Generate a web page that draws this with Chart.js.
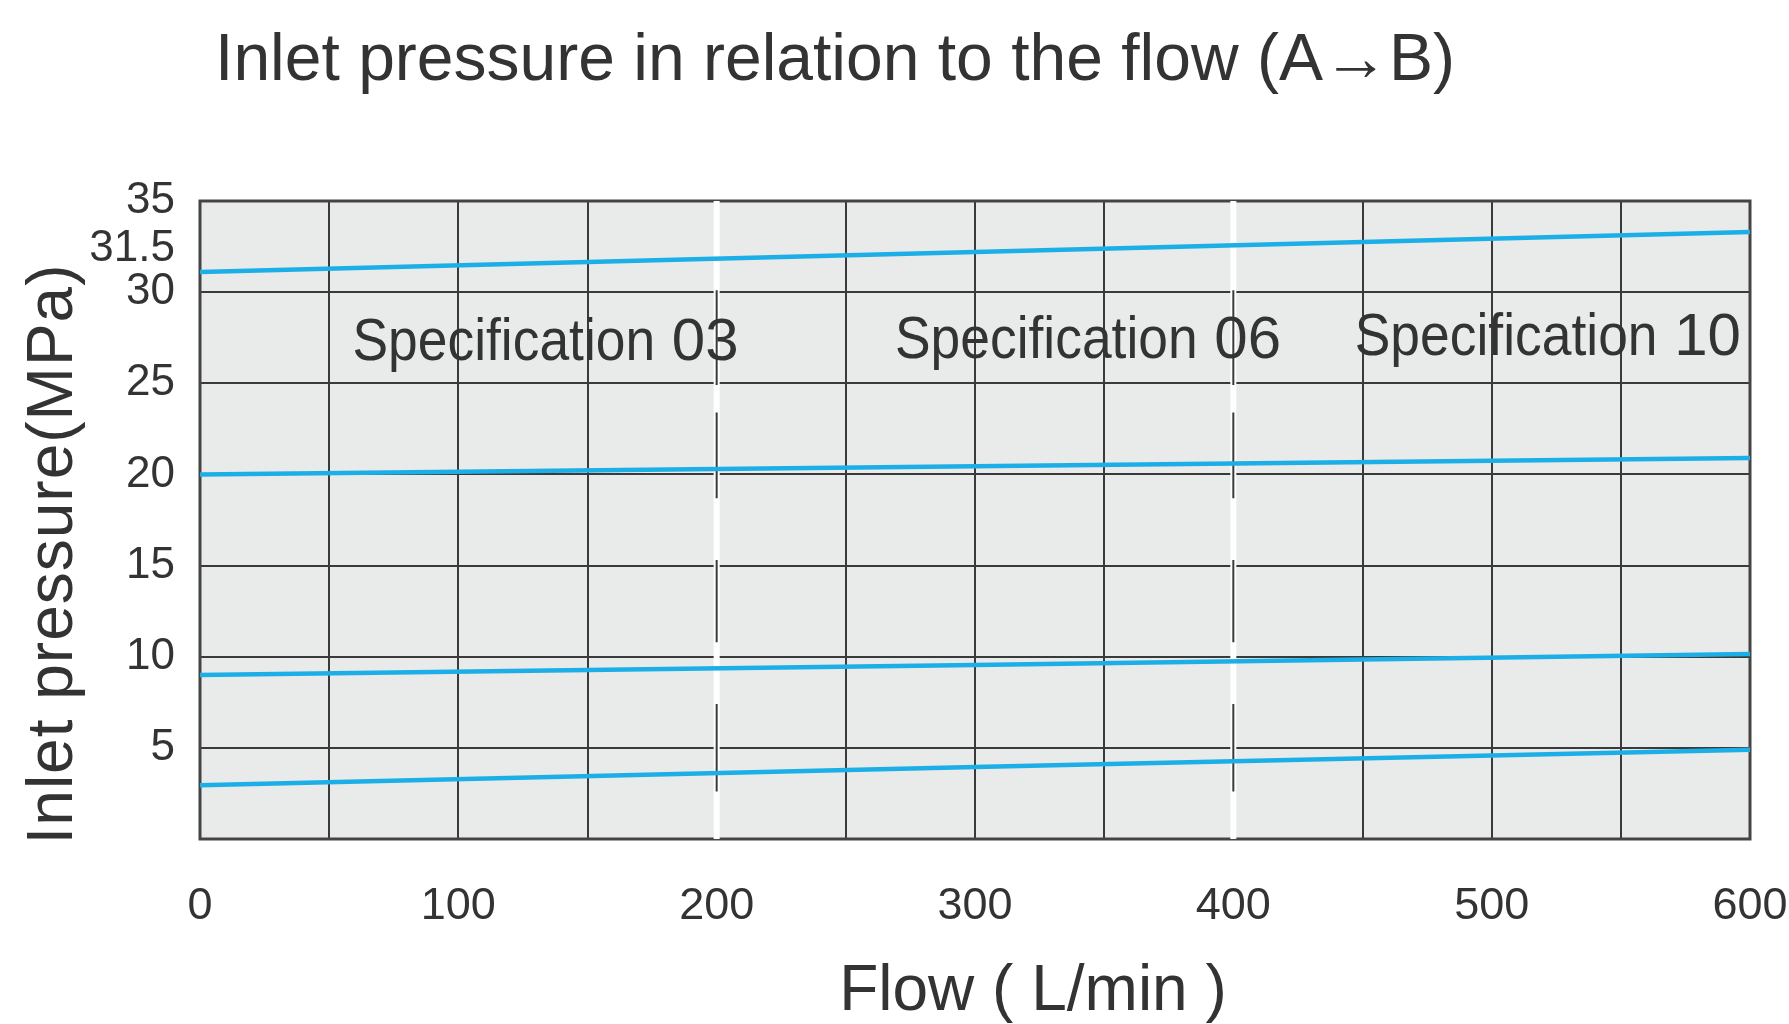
<!DOCTYPE html>
<html>
<head>
<meta charset="utf-8">
<script src="https://cdn.jsdelivr.net/npm/chart.js@4.4.1/dist/chart.umd.min.js"></script>
<style>
  html, body { margin: 0; padding: 0; background: #ffffff; }
  #wrap { width: 1789px; height: 1024px; position: relative; }
</style>
</head>
<body>
<div id="wrap"><canvas id="pressure_chart"></canvas></div>
<script>
// ---- data ----
const flow = [0, 300, 600]
const curve1 = [31.1, 32.2, 33.3]
const curve2 = [20.0, 20.45, 20.9]
const curve3 = [9.0, 9.55, 10.15]
const curve4 = [2.95, 3.95, 4.9]

const xTicks = [0, 50, 100, 150, 200, 250, 300, 350, 400, 450, 500, 550, 600]
const xTickLabels = ['0', '', '100', '', '200', '', '300', '', '400', '', '500', '', '600']
const yTicks = [0, 5, 10, 15, 20, 25, 30, 31.5, 35]
const yTickLabels = ['', '5', '10', '15', '20', '25', '30', '31.5', '35']

// specification borders and the dashes drawn on them
const specBorders = [200, 400]
const borderDashes = [[30.1, 24.9], [23.4, 18.7], [15.3, 10.8], [7.4, 2.6]]
const specNames = ['Specification 03', 'Specification 06', 'Specification 10']

const chartTitle = 'Inlet pressure in relation to the flow (A\u2192B)'
const xTitle = 'Flow ( L/min )'
const yTitle = 'Inlet pressure(MPa)'

// ---- layout / style ----
const FONT = '"Liberation Sans", Arial, sans-serif'
const PLOT_BG = '#e9eaea'
const GRID = '#3a3a3a'
const TEXT = '#333333'
const BLUE = '#1caee6'
const specAnchor = [[59, 26.3], [269, 26.4], [447, 26.55]] // text start (flow, pressure)

const toPoints = (ys) => ys.map((y, i) => ({ x: flow[i], y: y }))

const curveSet = (ys) => ({
  data: toPoints(ys),
  borderColor: BLUE,
  borderWidth: 4.5,
  pointRadius: 0,
  tension: 0,
  order: 0,
})

const datasets = [curve1, curve2, curve3, curve4].map(curveSet)

specBorders.forEach((f) => {
  datasets.push({
    data: [{ x: f, y: 0 }, { x: f, y: 35 }],
    borderColor: '#ffffff',
    borderWidth: 6,
    pointRadius: 0,
    order: 2,
  })
  const pts = []
  borderDashes.forEach(([a, b]) => {
    pts.push({ x: f, y: a }, { x: f, y: b }, { x: f, y: null })
  })
  datasets.push({
    data: pts,
    borderColor: GRID,
    borderWidth: 2,
    pointRadius: 0,
    spanGaps: false,
    order: 1,
  })
})

const decor = {
  id: 'decor',
  beforeDraw(chart) {
    const { ctx, chartArea: a } = chart
    ctx.save()
    ctx.fillStyle = PLOT_BG
    ctx.fillRect(a.left, a.top, a.right - a.left, a.bottom - a.top)
    ctx.restore()
  },
  beforeDatasetsDraw(chart) {
    const { ctx, chartArea: a } = chart
    ctx.save()
    ctx.strokeStyle = '#444444'
    ctx.lineWidth = 3
    ctx.strokeRect(a.left, a.top, a.right - a.left, a.bottom - a.top)
    ctx.restore()
  },
  afterDatasetsDraw(chart) {
    const { ctx } = chart
    const xs = chart.scales.x
    const ys = chart.scales.y
    ctx.save()
    ctx.fillStyle = TEXT
    ctx.textBaseline = 'alphabetic'

    ctx.textAlign = 'center'
    ctx.font = '66px ' + FONT
    ctx.fillText(chartTitle, 835, 80)

    ctx.font = '64px ' + FONT
    ctx.fillText(xTitle, 1033, 1010)

    ctx.save()
    ctx.translate(72, 554)
    ctx.rotate(-Math.PI / 2)
    ctx.letterSpacing = '1px'
    ctx.fillText(yTitle, 0, 0)
    ctx.restore()

    // specification labels, the word is a bit condensed
    ctx.textAlign = 'left'
    ctx.font = '60px ' + FONT
    specNames.forEach((name, i) => {
      const cut = name.lastIndexOf(' ')
      const word = name.slice(0, cut)
      const num = name.slice(cut)
      const px = xs.getPixelForValue(specAnchor[i][0])
      const py = ys.getPixelForValue(specAnchor[i][1])
      const w = ctx.measureText(word).width * 0.89
      ctx.save()
      ctx.translate(px, py)
      ctx.scale(0.89, 1)
      ctx.fillText(word, 0, 0)
      ctx.restore()
      ctx.fillText(num, px + w, py)
    })
    ctx.restore()
  },
}

Chart.defaults.font.family = FONT
Chart.defaults.color = TEXT

new Chart(document.getElementById('pressure_chart').getContext('2d'), {
  type: 'line',
  data: { datasets: datasets },
  options: {
    responsive: true,
    maintainAspectRatio: false,
    animation: false,
    layout: { padding: { top: 201, right: 39, bottom: 0, left: 0 } },
    plugins: {
      legend: { display: false },
      tooltip: { enabled: false },
      title: { display: false },
    },
    scales: {
      x: {
        type: 'linear',
        min: 0,
        max: 600,
        afterFit: (scale) => {
          scale.height = 185
          scale.paddingLeft = 0
          scale.paddingRight = 0
        },
        afterBuildTicks: (scale) => { scale.ticks = xTicks.map((v) => ({ value: v })) },
        grid: { color: GRID, lineWidth: 2, drawTicks: false },
        border: { display: false },
        ticks: {
          autoSkip: false,
          maxRotation: 0,
          padding: 41,
          font: { size: 45 },
          callback: (v, i) => xTickLabels[i],
        },
      },
      y: {
        type: 'linear',
        min: 0,
        max: 35,
        afterFit: (scale) => {
          scale.width = 200
          scale.paddingTop = 0
          scale.paddingBottom = 0
        },
        afterBuildTicks: (scale) => { scale.ticks = yTicks.map((v) => ({ value: v })) },
        grid: {
          drawTicks: false,
          lineWidth: 2,
          color: (c) => (c.tick && c.tick.value === 31.5 ? 'rgba(0,0,0,0)' : GRID),
        },
        border: { display: false },
        ticks: {
          autoSkip: false,
          padding: 25,
          font: { size: 44, lineHeight: '8px' },
          // 31.5 sits squeezed between 30 and 35: empty lines lift it up a bit
          callback: (v, i) => (yTicks[i] === 31.5
            ? [yTickLabels[i], '', '', '', '']
            : yTickLabels[i]),
        },
      },
    },
  },
  plugins: [decor],
})
</script>
</body>
</html>
